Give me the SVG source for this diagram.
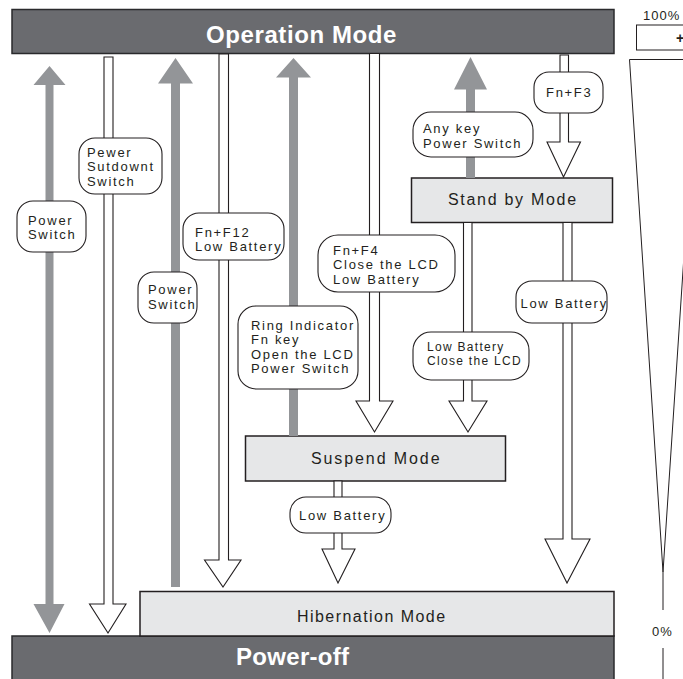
<svg xmlns="http://www.w3.org/2000/svg" width="683" height="679" viewBox="0 0 683 679">
<defs>
<style>
.bar{fill:#6a6b6f;stroke:#2a2a2c;stroke-width:1.5}
.box{fill:#e6e7e8;stroke:#231f20;stroke-width:1.5}
.barT{font-family:"Liberation Sans",Arial,sans-serif;font-weight:bold;font-size:24px;fill:#ffffff}
.boxT{font-family:"Liberation Sans",Arial,sans-serif;font-size:16px;fill:#231f20}
.gray{fill:#939598;stroke:none}
.hol{fill:#ffffff;stroke:#231f20;stroke-width:1.1;stroke-linejoin:miter}
.bub{fill:#ffffff;stroke:#231f20;stroke-width:1.1}
.bt{font-family:"Liberation Sans",Arial,sans-serif;font-size:13px;fill:#231f20;letter-spacing:1.7px}
.bs{font-family:"Liberation Sans",Arial,sans-serif;font-size:12px;fill:#231f20;letter-spacing:1.3px}
.ind{fill:none;stroke:#231f20;stroke-width:1}
.indT{font-family:"Liberation Sans",Arial,sans-serif;font-size:13px;fill:#231f20;letter-spacing:1px}
</style>
</defs>

<g id="operation-mode">
<rect class="bar" x="12" y="9.5" width="602" height="44"/>
<text class="barT" x="206" y="43" letter-spacing="0.6">Operation Mode</text>
</g>

<g id="power-off">
<rect class="bar" x="12" y="636" width="602" height="50"/>
<text class="barT" x="236" y="665" letter-spacing="0.3">Power-off</text>
</g>

<g id="hibernation-mode">
<rect class="box" x="140" y="591.5" width="474" height="44.5"/>
<text class="boxT" x="297" y="622" letter-spacing="1.45">Hibernation Mode</text>
</g>

<g id="suspend-mode">
<rect class="box" x="245.5" y="436" width="260" height="45"/>
<text class="boxT" x="311" y="464" font-size="17" letter-spacing="1.9">Suspend Mode</text>
</g>

<g id="standby-mode">
<rect class="box" x="411.5" y="178" width="201" height="44.5"/>
<text class="boxT" x="448" y="205" letter-spacing="1.7">Stand by Mode</text>
</g>

<g id="connectors">
<polygon class="gray" points="49.5,66 65.5,85 53.5,85 53.5,604 64.5,604 49.5,633 33.5,604 45.5,604 45.5,85 33.5,85"/>
<polygon class="gray" points="175.5,58 193,83.5 180,83.5 180,587 171,587 171,83.5 158,83.5"/>
<polygon class="gray" points="293.5,58 311,77.5 298,77.5 298,436 289,436 289,77.5 276,77.5"/>
<polygon class="gray" points="470.5,57 487,89.5 475,89.5 475,178 466,178 466,89.5 454,89.5"/>
<polygon class="hol" points="104,57 113,57 113,604 126,604 108,633 89.5,604 104,604"/>
<polygon class="hol" points="219,54 228.5,54 228.5,560 241,560 223,587 204.5,560 219,560"/>
<polygon class="hol" points="369.5,53.5 379.5,53.5 379.5,401 393,401 374.5,432 356,401 369.5,401"/>
<polygon class="hol" points="560,55 568.5,55 568.5,142 580.5,142 563.5,177 547,142 560,142"/>
<polygon class="hol" points="463.5,222.5 472,222.5 472,401 487,401 468,432 449,401 463.5,401"/>
<polygon class="hol" points="563,222.5 572,222.5 572,539 590,539 567,583 545,539 563,539"/>
<polygon class="hol" points="334,481 342,481 342,549 355,549 338,583 322,549 334,549"/>
</g>

<g id="label-power-switch-1">
<rect class="bub" x="17" y="201" width="69" height="51" rx="16"/>
<text class="bt" x="28" y="224.5" letter-spacing="2">Power</text>
<text class="bt" x="28" y="239" letter-spacing="2">Switch</text>
</g>

<g id="label-shutdown">
<rect class="bub" x="79" y="138" width="83" height="56" rx="16"/>
<text class="bt" x="87" y="156.5" letter-spacing="1.9">Pewer</text>
<text class="bt" x="87" y="171" letter-spacing="1.9">Sutdownt</text>
<text class="bt" x="87" y="185.5" letter-spacing="1.9">Switch</text>
</g>

<g id="label-fn-f12">
<rect class="bub" x="183" y="213" width="101" height="47" rx="16"/>
<text class="bt" x="195" y="236.5" letter-spacing="1.6">Fn+F12</text>
<text class="bt" x="195" y="251" letter-spacing="1.5">Low Battery</text>
</g>

<g id="label-power-switch-2">
<rect class="bub" x="138" y="272" width="59" height="51" rx="16"/>
<text class="bt" x="148" y="294" letter-spacing="1.8">Power</text>
<text class="bt" x="148" y="308.5" letter-spacing="1.8">Switch</text>
</g>

<g id="label-ring">
<rect class="bub" x="238" y="306" width="120" height="83" rx="18"/>
<text class="bt" x="251" y="329.5" letter-spacing="1.5">Ring Indicator</text>
<text class="bt" x="251" y="344" letter-spacing="1.5">Fn key</text>
<text class="bt" x="251" y="358.5" letter-spacing="1.5">Open the LCD</text>
<text class="bt" x="251" y="373" letter-spacing="1.5">Power Switch</text>
</g>

<g id="label-fn-f4">
<rect class="bub" x="318" y="235" width="137" height="57" rx="20"/>
<text class="bt" x="333" y="254.5" letter-spacing="2.7">Fn+F4</text>
<text class="bt" x="333" y="269" letter-spacing="2.8">Close the LCD</text>
<text class="bt" x="333" y="283.5" letter-spacing="2.8">Low Battery</text>
</g>

<g id="label-any-key">
<rect class="bub" x="413" y="112" width="120" height="45" rx="18"/>
<text class="bt" x="423" y="132.5" letter-spacing="2">Any key</text>
<text class="bt" x="423" y="147.5" letter-spacing="2">Power Switch</text>
</g>

<g id="label-fn-f3">
<rect class="bub" x="534" y="72" width="69" height="41" rx="15"/>
<text class="bt" x="546" y="97" letter-spacing="2.7">Fn+F3</text>
</g>

<g id="label-low-battery-standby">
<rect class="bub" x="516" y="281" width="91" height="42" rx="16"/>
<text class="bt" x="520.5" y="307.5" letter-spacing="1.3">Low Battery</text>
</g>

<g id="label-low-battery-close">
<rect class="bub" x="413" y="332" width="116" height="48" rx="18"/>
<text class="bs" x="427" y="350.5">Low Battery</text>
<text class="bs" x="427" y="365">Close the LCD</text>
</g>

<g id="label-low-battery-suspend">
<rect class="bub" x="290" y="497" width="101" height="36" rx="16"/>
<text class="bt" x="299" y="520" letter-spacing="1.5">Low Battery</text>
</g>

<g id="battery-indicator">
<text class="indT" x="643" y="19.5">100%</text>
<rect class="ind" x="636.5" y="25" width="60" height="25"/>
<text x="680" y="42.5" text-anchor="middle" font-family="Liberation Sans, Arial, sans-serif" font-weight="bold" font-size="14" fill="#231f20">+</text>
<polyline class="ind" points="697,59.5 629.5,59.5 663,572 697,59.5"/>
<line class="ind" x1="663" y1="572" x2="663" y2="610"/>
<text class="indT" x="652" y="636" letter-spacing="0.8">0%</text>
<line class="ind" x1="663" y1="648" x2="663" y2="679"/>
</g>
</svg>
